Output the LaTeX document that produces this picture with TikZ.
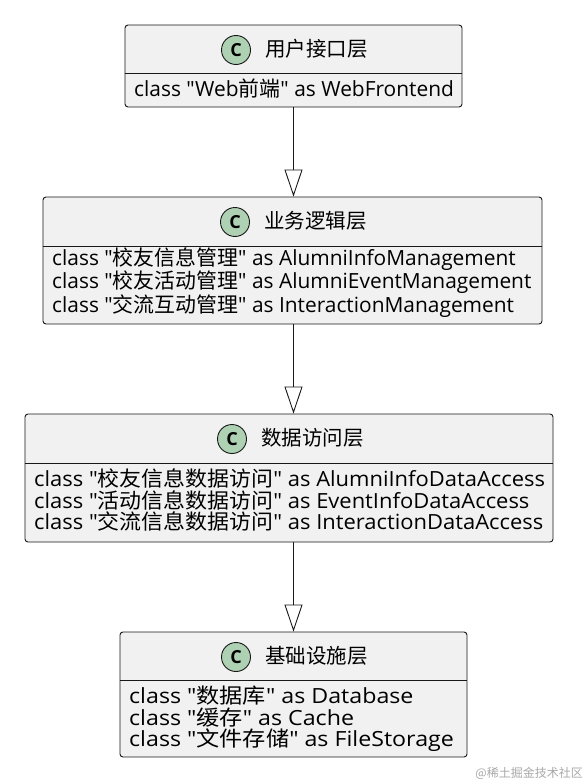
\documentclass[tikz,border=0pt]{standalone}
\usepackage{fontspec}
\usepackage{graphicx}
\setmainfont{Open Sans}[Ligatures=TeXOff]
\newfontfamily\cjk{Noto Sans CJK SC}[Ligatures=TeXOff]
\usetikzlibrary{arrows.meta}
\definecolor{boxfill}{HTML}{F1F1F1}
\definecolor{boxline}{HTML}{181818}
\definecolor{circfill}{HTML}{ADD1B2}
\definecolor{wmgray}{HTML}{A8A8A8}
\newcommand{\zh}[1]{{\cjk #1}}
\newcommand{\wline}[2]{\scalebox{#1}[1]{#2}}
\tikzset{
  classbox/.style={draw=boxline, fill=boxfill, rounded corners=3pt, line width=0.9pt, inner sep=0pt},
  sepline/.style={draw=boxline, line width=0.9pt},
  badge/.style={circle, draw=boxline, fill=circfill, line width=0.9pt, minimum size=29pt, inner sep=0pt, font=\fontsize{18}{18}\selectfont\bfseries},
  titletext/.style={anchor=base west, inner sep=0pt, font=\cjk\fontsize{20.5}{24}\selectfont},
  bodytext/.style={anchor=base west, inner sep=0pt, align=left, font=\fontsize{20.9}{21.5}\selectfont},
  inherit/.style={draw=boxline, line width=0.9pt, -{Triangle[open, length=27pt, width=18pt]}},
}
\begin{document}
\begin{tikzpicture}[x=1pt, y=-1pt]
\useasboundingbox[fill=white] (0,0) rectangle (587,784);

% Box 1
\node[classbox, minimum width=337pt, minimum height=82pt] (b1) at (293.5,66) {};
\draw[sepline] (b1.west |- 0,73) -- (b1.east |- 0,73);
\node[badge] (c1) at (236,50) {C};
\node[titletext] (t1) at (265,56.5) {用户接口层};
\node[bodytext] (d1) at (134,96.5) {class "Web\zh{前端}" as WebFrontend};

% Box 2
\node[classbox, minimum width=499pt, minimum height=127pt] (b2) at (292.5,260.5) {};
\draw[sepline] (b2.west |- 0,246) -- (b2.east |- 0,246);
\node[badge] (c2) at (235,222) {C};
\node[titletext] (t2) at (264,228.5) {业务逻辑层};
\node[bodytext] (d2) at (52,312.5) {class "\zh{校友信息管理}" as AlumniInfoManagement\\
class "\zh{校友活动管理}" as AlumniEventManagement\\
class "\zh{交流互动管理}" as InteractionManagement};

% Box 3
\node[classbox, minimum width=528pt, minimum height=128pt] (b3) at (289,478) {};
\draw[sepline] (b3.west |- 0,463) -- (b3.east |- 0,463);
\node[badge] (c3) at (232,439) {C};
\node[titletext] (t3) at (261,445.5) {数据访问层};
\node[bodytext] (d3) at (34,529.5) {\wline{1.05}{class "\zh{校友信息数据访问}" as AlumniInfoDataAccess}\\
\wline{1.05}{class "\zh{活动信息数据访问}" as EventInfoDataAccess}\\
\wline{1.05}{class "\zh{交流信息数据访问}" as InteractionDataAccess}};

% Box 4
\node[classbox, minimum width=347pt, minimum height=125pt] (b4) at (293.5,694.5) {};
\draw[sepline] (b4.west |- 0,680) -- (b4.east |- 0,680);
\node[badge] (c4) at (236,657) {C};
\node[titletext] (t4) at (265,663.5) {基础设施层};
\node[bodytext] (d4) at (129,746.5) {\wline{1.11}{class "\zh{数据库}" as Database}\\
\wline{1.11}{class "\zh{缓存}" as Cache}\\
\wline{1.11}{class "\zh{文件存储}" as FileStorage}};

% Connectors
\draw[inherit] (b1.south) -- (b1.south |- b2.north);
\draw[inherit] (b1.south |- b2.south) -- (b1.south |- b3.north);
\draw[inherit] (b4.north |- b3.south) -- (b4.north);

% Watermark
\node[anchor=base east, inner sep=0pt, text=wmgray, font=\cjk\fontsize{12}{12}\selectfont] (wm) at (583,777) {@稀土掘金技术社区};
\end{tikzpicture}
\end{document}
